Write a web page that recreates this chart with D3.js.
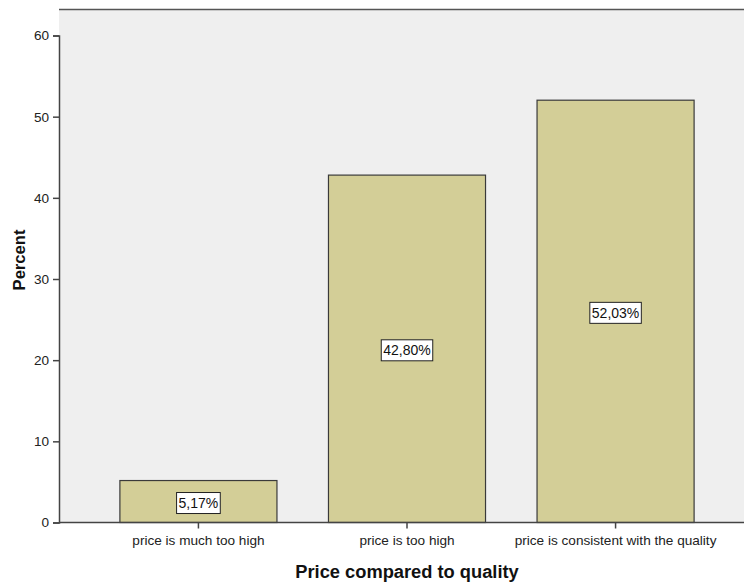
<!DOCTYPE html>
<html><head><meta charset="utf-8">
<script src="https://cdn.jsdelivr.net/npm/d3@7"></script>
<style>body{margin:0;background:#fff;}svg{display:block;font-family:Arial,"Liberation Sans",sans-serif;}</style>
</head><body>
<svg id="c" width="744" height="585"></svg>
<script>
const categories = ["price is much too high", "price is too high", "price is consistent with the quality"];
const percents = [5.17, 42.80, 52.03];
const valueLabels = ["5,17%", "42,80%", "52,03%"];
const yTicks = [0, 10, 20, 30, 40, 50, 60];

const svg = d3.select("#c");
const L = 59, R = 755, T = 9.5, B = 522.5;
const x = d3.scaleBand().domain(categories).range([L, R]).paddingInner(0.247).paddingOuter(0.292);
const y = d3.scaleLinear().domain([0, 60]).range([B, 35.5]);

svg.append("rect").attr("x", L).attr("y", T).attr("width", R - L).attr("height", B - T).attr("fill", "#efefef");
svg.append("line").attr("x1", L).attr("x2", R).attr("y1", T).attr("y2", T).attr("stroke", "#555").attr("stroke-width", 1.5);

svg.selectAll("rect.bar").data(categories).enter().append("rect").attr("class", "bar")
  .attr("x", d => x(d)).attr("width", x.bandwidth())
  .attr("y", (d, i) => y(percents[i])).attr("height", (d, i) => B - y(percents[i]))
  .attr("fill", "#d3ce97").attr("stroke", "#3a3a3a").attr("stroke-width", 1.2);

const g = svg.selectAll("g.lab").data(categories).enter().append("g").attr("class", "lab")
  .attr("transform", (d, i) => `translate(${x(d) + x.bandwidth() / 2},${(y(percents[i]) + B) / 2 + 1.5})`);
g.append("text").text((d, i) => valueLabels[i]).attr("text-anchor", "middle").attr("dy", "0.36em")
  .attr("font-size", 14).attr("fill", "#111")
  .each(function() {
    const bb = this.getBBox();
    d3.select(this.parentNode).insert("rect", "text")
      .attr("x", bb.x - 2).attr("y", -10.5).attr("width", bb.width + 4).attr("height", 21)
      .attr("fill", "#fff").attr("stroke", "#222").attr("stroke-width", 1);
  });

const yAxis = svg.append("g").attr("transform", `translate(${L},0)`)
  .call(d3.axisLeft(y).tickValues(yTicks).tickSize(6).tickPadding(4).tickFormat(d3.format("d")));
const xAxis = svg.append("g").attr("transform", `translate(0,${B})`)
  .call(d3.axisBottom(x).tickSize(6).tickPadding(7));
[yAxis, xAxis].forEach(a => {
  a.select(".domain").attr("stroke", "#444").attr("stroke-width", 1.5);
  a.selectAll(".tick line").attr("stroke", "#444").attr("stroke-width", 1.5);
  a.selectAll("text").attr("font-size", 13.6).attr("fill", "#222").attr("font-family", "Arial,'Liberation Sans',sans-serif");
});
xAxis.select(".domain").attr("d", `M${L},0H${R}`);

svg.append("text").attr("x", (L + R) / 2).attr("y", 578).attr("text-anchor", "middle")
  .attr("font-size", 18.3).attr("font-weight", "bold").attr("fill", "#111").text("Price compared to quality");
svg.append("text").attr("transform", `translate(25,260) rotate(-90)`).attr("text-anchor", "middle")
  .attr("font-size", 16.6).attr("font-weight", "bold").attr("fill", "#111").text("Percent");
</script>
</body></html>
